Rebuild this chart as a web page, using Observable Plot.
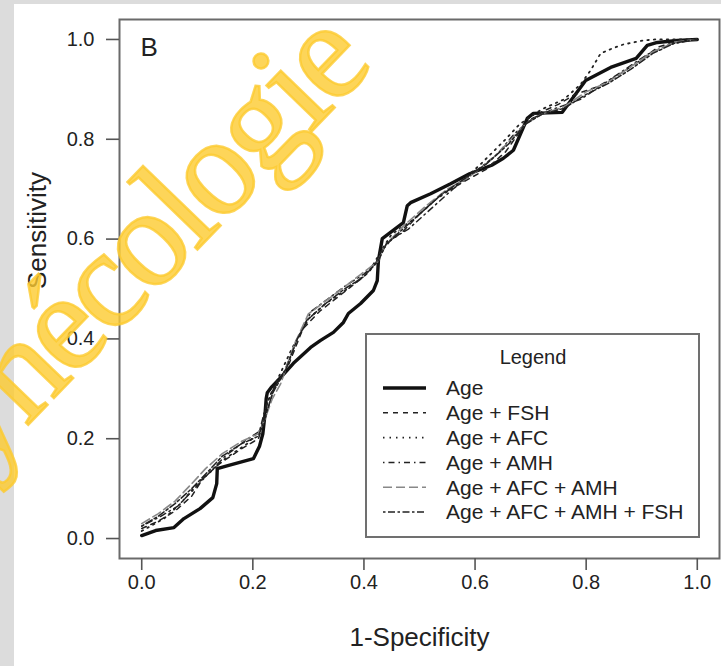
<!DOCTYPE html>
<html>
<head>
<meta charset="utf-8">
<script src="https://cdn.jsdelivr.net/npm/d3@7"></script>
<script src="https://cdn.jsdelivr.net/npm/@observablehq/plot@0.6"></script>
<style>
  body { margin: 0; background: #dcdcdc; }
  #wrap { position: relative; width: 721px; height: 666px; overflow: hidden; background: #dcdcdc; }
  #panel { position: absolute; left: 14px; top: 4px; width: 707px; height: 662px; background: #fff; }
  #legend { position: absolute; left: 365px; top: 333px; width: 331px; height: 201px; border: 2px solid #707070; background: #fff; }
  #wm { position: absolute; left: 0; top: 0; pointer-events: none; }
</style>
</head>
<body>
<div id="wrap">
  <div id="panel"></div>
  <div id="legend"></div>
  <svg id="wm" width="721" height="666"></svg>
</div>
<script>
// ---- data ----
const xTicks = [0, 0.2, 0.4, 0.6, 0.8, 1.0];
const yTicks = [0, 0.2, 0.4, 0.6, 0.8, 1.0];
const xTitle = "1-Specificity";
const yTitle = "Sensitivity";
const panelLabel = "B";
const legendTitle = "Legend";
const watermark = "Gynécologie";
const seriesNames = ["Age", "Age + FSH", "Age + AFC", "Age + AMH", "Age + AFC + AMH", "Age + AFC + AMH + FSH"];

// [1-specificity, sensitivity]
const age = [[0,0.006],[0.025,0.016],[0.058,0.022],[0.076,0.040],[0.105,0.060],[0.128,0.082],[0.135,0.110],[0.136,0.140],[0.155,0.146],[0.201,0.160],[0.212,0.185],[0.218,0.210],[0.222,0.250],[0.224,0.280],[0.226,0.292],[0.234,0.304],[0.252,0.325],[0.273,0.351],[0.304,0.383],[0.322,0.397],[0.345,0.413],[0.363,0.433],[0.372,0.451],[0.394,0.471],[0.417,0.497],[0.424,0.517],[0.426,0.557],[0.433,0.601],[0.471,0.633],[0.478,0.667],[0.484,0.673],[0.520,0.691],[0.556,0.711],[0.590,0.731],[0.630,0.748],[0.651,0.762],[0.669,0.778],[0.694,0.842],[0.705,0.852],[0.757,0.854],[0.799,0.918],[0.844,0.944],[0.890,0.962],[0.910,0.988],[0.928,0.994],[0.964,0.998],[1,1]];
const ageFsh = [[0,0.020],[0.030,0.035],[0.060,0.055],[0.090,0.085],[0.110,0.120],[0.140,0.150],[0.180,0.180],[0.210,0.200],[0.222,0.240],[0.238,0.300],[0.265,0.350],[0.290,0.420],[0.320,0.455],[0.360,0.490],[0.400,0.525],[0.425,0.560],[0.440,0.590],[0.470,0.615],[0.500,0.650],[0.540,0.690],[0.580,0.715],[0.620,0.740],[0.655,0.775],[0.690,0.830],[0.720,0.855],[0.750,0.870],[0.780,0.890],[0.820,0.905],[0.860,0.930],[0.900,0.960],[0.930,0.985],[0.960,0.995],[1,1]];
const ageAfc = [[0,0.015],[0.040,0.040],[0.070,0.070],[0.100,0.110],[0.130,0.140],[0.150,0.160],[0.190,0.190],[0.215,0.220],[0.225,0.270],[0.245,0.320],[0.270,0.380],[0.300,0.440],[0.330,0.470],[0.370,0.500],[0.410,0.535],[0.430,0.575],[0.450,0.610],[0.490,0.640],[0.530,0.680],[0.570,0.710],[0.610,0.750],[0.655,0.800],[0.680,0.830],[0.720,0.860],[0.760,0.880],[0.790,0.910],[0.808,0.938],[0.826,0.972],[0.847,0.982],[0.867,0.990],[0.903,0.998],[0.924,1],[1,1]];
const ageAmh = [[0,0.025],[0.035,0.045],[0.065,0.065],[0.095,0.100],[0.120,0.130],[0.150,0.165],[0.185,0.195],[0.212,0.215],[0.220,0.250],[0.232,0.290],[0.255,0.330],[0.280,0.400],[0.305,0.455],[0.335,0.480],[0.365,0.505],[0.400,0.530],[0.420,0.550],[0.435,0.580],[0.450,0.600],[0.480,0.620],[0.520,0.660],[0.560,0.700],[0.600,0.735],[0.640,0.770],[0.670,0.810],[0.700,0.840],[0.740,0.860],[0.790,0.880],[0.830,0.910],[0.870,0.940],[0.910,0.970],[0.950,0.990],[1,1]];
const ageAfcAmh = [[0,0.030],[0.030,0.050],[0.060,0.075],[0.090,0.110],[0.115,0.140],[0.145,0.170],[0.180,0.195],[0.210,0.210],[0.222,0.240],[0.235,0.280],[0.250,0.310],[0.275,0.390],[0.300,0.450],[0.330,0.475],[0.360,0.500],[0.395,0.530],[0.425,0.555],[0.440,0.590],[0.470,0.625],[0.510,0.665],[0.550,0.700],[0.590,0.725],[0.630,0.760],[0.665,0.800],[0.690,0.830],[0.720,0.850],[0.760,0.865],[0.800,0.895],[0.840,0.915],[0.880,0.945],[0.920,0.975],[0.960,0.995],[1,1]];
const ageAll = [[0,0.025],[0.030,0.045],[0.060,0.070],[0.090,0.100],[0.120,0.135],[0.145,0.165],[0.180,0.190],[0.210,0.205],[0.220,0.235],[0.235,0.290],[0.260,0.340],[0.280,0.400],[0.300,0.440],[0.330,0.470],[0.365,0.500],[0.400,0.525],[0.425,0.555],[0.440,0.590],[0.465,0.615],[0.500,0.650],[0.540,0.690],[0.580,0.720],[0.620,0.750],[0.660,0.790],[0.690,0.830],[0.720,0.850],[0.760,0.862],[0.800,0.890],[0.840,0.912],[0.880,0.940],[0.920,0.972],[0.960,0.993],[1,1]];
const seriesData = [age, ageFsh, ageAfc, ageAmh, ageAfcAmh, ageAll];

// ---- styles ----
const styles = [
  {stroke: "#111", strokeWidth: 3.4, dash: null},
  {stroke: "#222", strokeWidth: 1.5, dash: "5,5"},
  {stroke: "#222", strokeWidth: 1.8, dash: "1.5,5"},
  {stroke: "#222", strokeWidth: 1.5, dash: "1.5,4,6,4"},
  {stroke: "#888", strokeWidth: 1.6, dash: "9,4"},
  {stroke: "#222", strokeWidth: 1.5, dash: "2.5,2.5,7,2.5"}
];

const rows = seriesNames.flatMap((name, i) => seriesData[i].map(([fpr, tpr]) => ({name, fpr, tpr})));

const lineMarks = seriesNames.map((name, i) => Plot.line(rows.filter(d => d.name === name), {
  x: "fpr", y: "tpr",
  stroke: styles[i].stroke,
  strokeWidth: styles[i].strokeWidth,
  strokeDasharray: styles[i].dash,
  strokeLinejoin: "round"
}));

const chart = Plot.plot({
  width: 707,
  height: 662,
  marginLeft: 105,
  marginRight: 2,
  marginTop: 15,
  marginBottom: 108,
  style: {fontFamily: "'Liberation Sans', Arial, sans-serif", fontSize: "20px", background: "#fff", color: "#222"},
  x: {domain: [-0.04, 1.04]},
  y: {domain: [-0.04, 1.04]},
  marks: [
    ...lineMarks,
    Plot.frame({stroke: "#6a6a6a", strokeWidth: 2}),
    Plot.axisX(xTicks, {tickSize: 12, tickPadding: 4, tickFormat: d => d.toFixed(1), label: null, stroke: "#555", strokeWidth: 1.6, fontSize: 20}),
    Plot.axisY(yTicks, {tickSize: 13, tickPadding: 12, tickFormat: d => d.toFixed(1), label: null, stroke: "#555", strokeWidth: 1.6, fontSize: 20}),
    Plot.text([xTitle], {frameAnchor: "bottom", dy: 79, lineAnchor: "middle", fontSize: 26, fill: "#222", text: d => d}),
    Plot.text([yTitle], {frameAnchor: "left", dx: -82, rotate: -90, lineAnchor: "middle", fontSize: 26, fill: "#222", text: d => d}),
    Plot.text([panelLabel], {frameAnchor: "top-left", dx: 21, dy: 28, lineAnchor: "middle", textAnchor: "start", fontSize: 26, fill: "#222", text: d => d})
  ]
});
document.getElementById("panel").appendChild(chart);

// ---- legend ----
const lg = d3.select("#legend").append("svg").attr("width", 331).attr("height", 201)
  .style("font-family", "'Liberation Sans', Arial, sans-serif");
lg.append("text").attr("x", 166).attr("y", 22).attr("dy", "0.35em").attr("text-anchor", "middle")
  .attr("font-size", 20).attr("fill", "#222").text(legendTitle);
seriesNames.forEach((name, i) => {
  const y = 53 + i * 24.8;
  lg.append("line").attr("x1", 16).attr("x2", 59).attr("y1", y).attr("y2", y)
    .attr("stroke", styles[i].stroke).attr("stroke-width", styles[i].strokeWidth)
    .attr("stroke-dasharray", styles[i].dash);
  lg.append("text").attr("x", 79).attr("y", y).attr("dy", "0.35em").attr("font-size", 21)
    .attr("fill", "#222").text(name);
});

// ---- watermark ----
d3.select("#wm").append("text")
  .attr("transform", "translate(-86,543) rotate(-46)")
  .attr("font-family", "'Liberation Serif', 'DejaVu Serif', serif")
  .attr("font-size", 140)
  .attr("letter-spacing", -5)
  .attr("fill", "#FCCB30")
  .attr("stroke", "#FCCB30")
  .attr("stroke-width", 2.5)
  .attr("fill-opacity", 0.8)
  .attr("stroke-opacity", 0.8)
  .attr("paint-order", "stroke")
  .text(watermark);
</script>
</body>
</html>
